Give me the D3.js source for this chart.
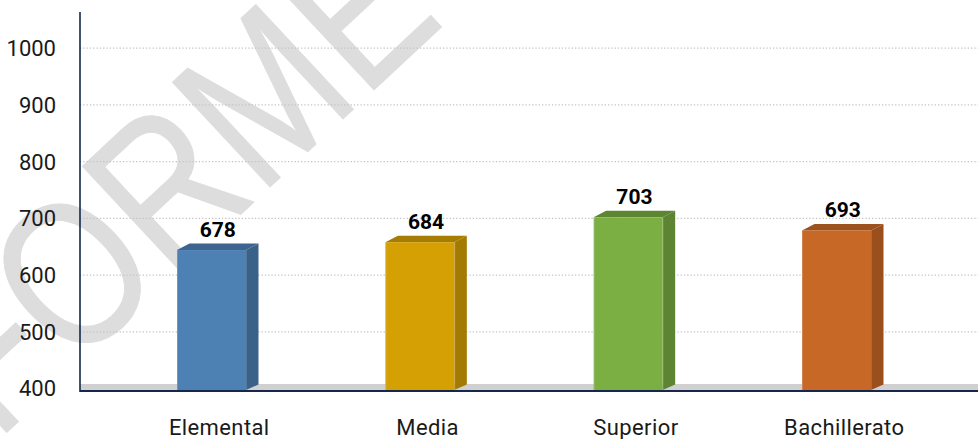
<!DOCTYPE html>
<html>
<head>
<meta charset="utf-8">
<script src="https://cdn.jsdelivr.net/npm/d3@7"></script>
<style>
  html, body { margin: 0; padding: 0; background: #ffffff; }
  svg { display: block; }
</style>
</head>
<body>
<svg id="chart" width="978" height="439"></svg>
<script>
// ---- data ----
const categories = ["Elemental", "Media", "Superior", "Bachillerato"];
const values = [678, 684, 703, 693];
const tickValues = [400, 500, 600, 700, 800, 900, 1000];
const frontColors = ["#4e81b3", "#d4a003", "#7bae43", "#c76827"];
const sideColors = ["#3a6187", "#a37b02", "#5c8432", "#9a4f1d"];
const topColors = ["#3d6590", "#a67d03", "#5d8532", "#9c511e"];
const watermarkText = "INFORME";

// ---- layout ----
const W = 978, H = 439;
const axisX = 80, floorY = 391, topY = 12;
const depthX = 12.5, depthY = -6.5;
const barW = 69;

const svg = d3.select("#chart");

// watermark (behind everything)
svg.append("g")
  .attr("transform", "translate(270,187) rotate(-43) scale(0.82,1)")
  .append("text")
  .attr("x", -664)
  .attr("y", 0)
  .attr("font-family", "'Liberation Sans', Arial, sans-serif")
  .attr("font-size", 208)
  .attr("fill", "#dddddd")
  .attr("stroke", "#dddddd")
  .attr("stroke-width", 1)
  .attr("stroke-linejoin", "round")
  .text(watermarkText);

// scales
const y = d3.scaleLinear().domain([400, 1000]).range([388, 47.7]);
// 3D bar projection scale (bars are drawn on the perspective floor)
const yBar = d3.scaleLinear().domain([571, 689.5]).range([390, 235]);
const x = d3.scalePoint().domain(categories).range([211.5, 836.5]);

// gridlines
const grid = svg.append("g")
  .attr("transform", `translate(${axisX},0)`)
  .call(d3.axisLeft(y).tickValues(tickValues.filter(v => v > 400)).tickSize(-(W - axisX)).tickFormat(""));
grid.select(".domain").remove();
grid.selectAll("line")
  .attr("stroke", "#c4c4c4")
  .attr("stroke-width", 1.2)
  .attr("stroke-dasharray", "1.3,2");

// floor band
svg.append("rect")
  .attr("x", axisX).attr("y", 384)
  .attr("width", W - axisX).attr("height", floorY - 384)
  .attr("fill", "#d0d0d0");

// y tick labels
const yAxis = svg.append("g")
  .attr("transform", `translate(56,0)`)
  .call(d3.axisLeft(y).tickValues(tickValues).tickSize(0).tickPadding(0).tickFormat(d3.format("d")));
yAxis.select(".domain").remove();
yAxis.selectAll("text")
  .attr("font-family", "Roboto, sans-serif")
  .attr("font-size", 22)
  .attr("fill", "#1a1a1a")
  .attr("dy", "0.36em");

// bars
const bars = svg.append("g").selectAll("g.bar")
  .data(categories.map((c, i) => ({ c, v: values[i], i })))
  .join("g").attr("class", "bar");

bars.each(function (d) {
  const g = d3.select(this);
  const x0 = x(d.c) - barW / 2, x1 = x(d.c) + barW / 2;
  const yt = yBar(d.v), yb = floorY - 1;
  // side face
  g.append("path")
    .attr("d", `M${x1},${yt} L${x1 + depthX},${yt + depthY} L${x1 + depthX},${yb + depthY + 1} L${x1},${yb} Z`)
    .attr("fill", sideColors[d.i]);
  // top face
  g.append("path")
    .attr("d", `M${x0},${yt} L${x0 + depthX},${yt + depthY} L${x1 + depthX},${yt + depthY} L${x1},${yt} Z`)
    .attr("fill", topColors[d.i]);
  // front face
  g.append("rect")
    .attr("x", x0).attr("y", yt)
    .attr("width", barW).attr("height", yb - yt)
    .attr("fill", frontColors[d.i]);
  // subtle highlight edges
  g.append("line")
    .attr("x1", x0 + 0.5).attr("x2", x0 + 0.5).attr("y1", yt).attr("y2", yb)
    .attr("stroke", "#ffffff").attr("stroke-opacity", 0.18);
  g.append("line")
    .attr("x1", x1 + 0.5).attr("x2", x1 + 0.5).attr("y1", yt).attr("y2", yb)
    .attr("stroke", "#ffffff").attr("stroke-opacity", 0.15);
  // value label
  g.append("text")
    .attr("x", x(d.c) + depthX / 2)
    .attr("y", yt + depthY - 6.5)
    .attr("text-anchor", "middle")
    .attr("font-family", "Roboto, sans-serif")
    .attr("font-weight", 700)
    .attr("font-size", 21)
    .attr("fill", "#000000")
    .text(d.v);
});

// axis lines
svg.append("line")
  .attr("x1", axisX).attr("x2", axisX).attr("y1", topY).attr("y2", floorY + 1)
  .attr("stroke", "#15274a").attr("stroke-width", 1.6);
svg.append("line")
  .attr("x1", axisX).attr("x2", W).attr("y1", floorY).attr("y2", floorY)
  .attr("stroke", "#15274a").attr("stroke-width", 1.8);

// category labels
const xAxis = svg.append("g")
  .attr("transform", `translate(${depthX / 2 + 1},435)`)
  .call(d3.axisBottom(x).tickSize(0).tickPadding(0));
xAxis.select(".domain").remove();
xAxis.selectAll("text")
  .attr("font-family", "Roboto, sans-serif")
  .attr("font-size", 22)
  .attr("letter-spacing", 0.4)
  .attr("fill", "#1a1a1a")
  .attr("dy", 0);
</script>
</body>
</html>
